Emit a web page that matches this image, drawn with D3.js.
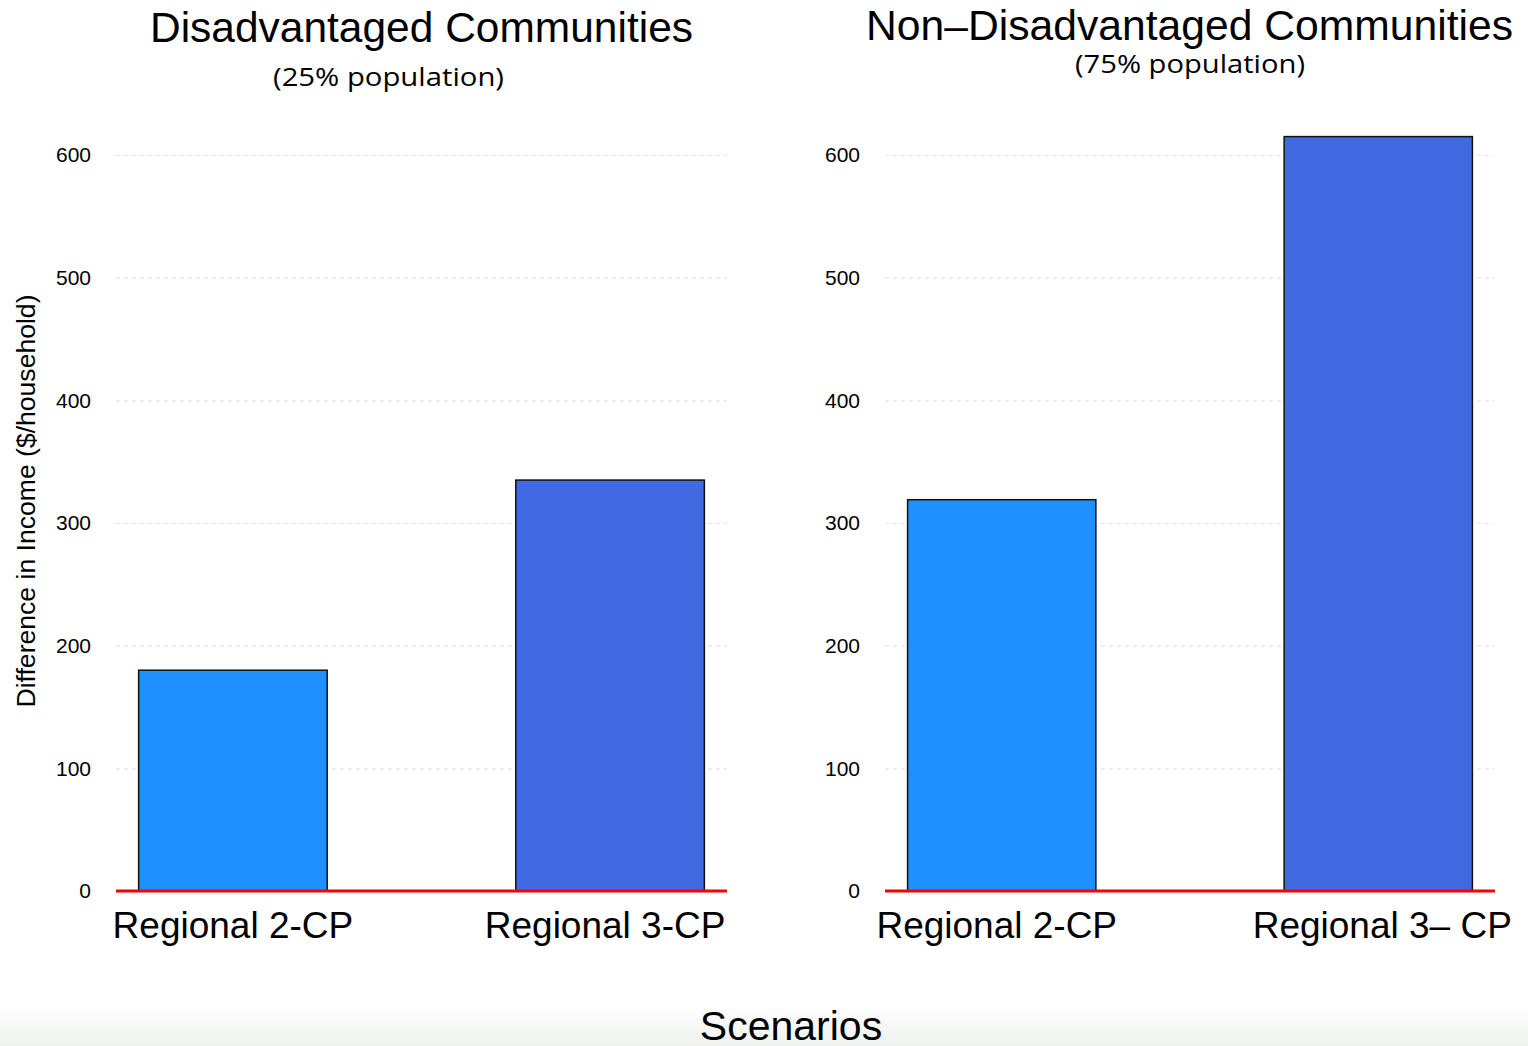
<!DOCTYPE html>
<html>
<head>
<meta charset="utf-8">
<script src="https://cdn.jsdelivr.net/npm/d3@7"></script>
<style>
  html, body { margin: 0; padding: 0; background: #fff; }
  svg { display: block; }
  text { font-family: "Liberation Sans", Arial, Helvetica, sans-serif; fill: #000; }
  .sub { font-family: "Open Sans", "Noto Sans", sans-serif; }
</style>
</head>
<body>
<script>
// ---- data ----
const panelTitles = ["Disadvantaged Communities", "Non\u2013Disadvantaged Communities"];
const panelSubtitles = ["(25% population)", "(75% population)"];
const categories = ["Regional 2-CP", "Regional 3-CP"];
const leftLabels = ["Regional 2-CP", "Regional 3-CP"];
const rightLabels = ["Regional 2-CP", "Regional 3\u2013 CP"];
const disadvantagedValues = [180, 335];
const nonDisadvantagedValues = [319, 615];
const yTicks = [0, 100, 200, 300, 400, 500, 600];
const barColors = ["#1E90FF", "#4169E1"];
const yAxisTitle = "Difference in Income ($/household)";
const xAxisTitle = "Scenarios";

// ---- layout ----
const W = 1528, H = 1046;
const svg = d3.select("body").append("svg").attr("width", W).attr("height", H);

const defs = svg.append("defs");
const grad = defs.append("linearGradient").attr("id", "bg").attr("x1", 0).attr("y1", 0).attr("x2", 0).attr("y2", 1);
grad.append("stop").attr("offset", "0").attr("stop-color", "#ffffff");
grad.append("stop").attr("offset", "1").attr("stop-color", "#eef1ee");
svg.append("rect").attr("x", 0).attr("y", 1005).attr("width", W).attr("height", 41).attr("fill", "url(#bg)");

const y = d3.scaleLinear().domain([0, 600]).range([891, 155]);

const panels = [
  { x0: 116, x1: 727, title: panelTitles[0], sub: panelSubtitles[0], values: disadvantagedValues, labels: leftLabels,
    labelShift: [0, -5], tcx: 421.5, tcy: 42, tlen: 543, scx: 388.5, scy: 86, slen: 231 },
  { x0: 885, x1: 1495, title: panelTitles[1], sub: panelSubtitles[1], values: nonDisadvantagedValues, labels: rightLabels,
    labelShift: [-5, 4], tcx: 1189.5, tcy: 40, tlen: 647, scx: 1190, scy: 73, slen: 230 }
];

panels.forEach((p) => {
  const g = svg.append("g");
  const x = d3.scaleBand().domain(categories).range([p.x0, p.x1]).paddingInner(0.5).paddingOuter(0.06);

  // grid + y tick labels
  const ax = g.append("g").attr("transform", `translate(${p.x0},0)`)
    .call(d3.axisLeft(y).tickValues(yTicks).tickSize(-(p.x1 - p.x0)).tickPadding(25).tickFormat(d3.format("d")));
  ax.select(".domain").remove();
  ax.selectAll(".tick line").attr("stroke", "#e3e3e3").attr("stroke-width", 1.2).attr("stroke-dasharray", "4,4");
  ax.selectAll(".tick text").attr("font-size", 21).attr("font-family", "Liberation Sans, Arial, sans-serif").attr("fill", "#000");

  // bars
  g.selectAll("rect.bar").data(p.values).enter().append("rect")
    .attr("class", "bar")
    .attr("x", (d, i) => x(categories[i]))
    .attr("width", x.bandwidth())
    .attr("y", d => y(d))
    .attr("height", d => y(0) - y(d))
    .attr("fill", (d, i) => barColors[i])
    .attr("stroke", "#111")
    .attr("stroke-width", 1.5);

  // zero line
  g.append("line").attr("x1", p.x0).attr("x2", p.x1).attr("y1", y(0)).attr("y2", y(0))
    .attr("stroke", "#ff0000").attr("stroke-width", 3);

  // x labels
  g.selectAll("text.xl").data(p.labels).enter().append("text")
    .attr("class", "xl")
    .attr("x", (d, i) => x(categories[i]) + x.bandwidth() / 2 + p.labelShift[i])
    .attr("y", 938)
    .attr("text-anchor", "middle")
    .attr("font-size", 37)
    .text(d => d);

  // titles
  g.append("text").attr("x", p.tcx).attr("y", p.tcy).attr("text-anchor", "middle")
    .attr("font-size", 43).attr("textLength", p.tlen).attr("lengthAdjust", "spacingAndGlyphs").text(p.title);
  g.append("text").attr("class", "sub").attr("x", p.scx).attr("y", p.scy).attr("text-anchor", "middle")
    .attr("font-size", 26).attr("textLength", p.slen).attr("lengthAdjust", "spacingAndGlyphs").text(p.sub);
});

// y axis title
svg.append("text").attr("transform", "translate(35,501) rotate(-90)").attr("text-anchor", "middle")
  .attr("font-size", 25).attr("textLength", 413).attr("lengthAdjust", "spacingAndGlyphs").text(yAxisTitle);

// x axis title
svg.append("text").attr("x", 791).attr("y", 1040).attr("text-anchor", "middle")
  .attr("font-size", 41).text(xAxisTitle);
</script>
</body>
</html>
